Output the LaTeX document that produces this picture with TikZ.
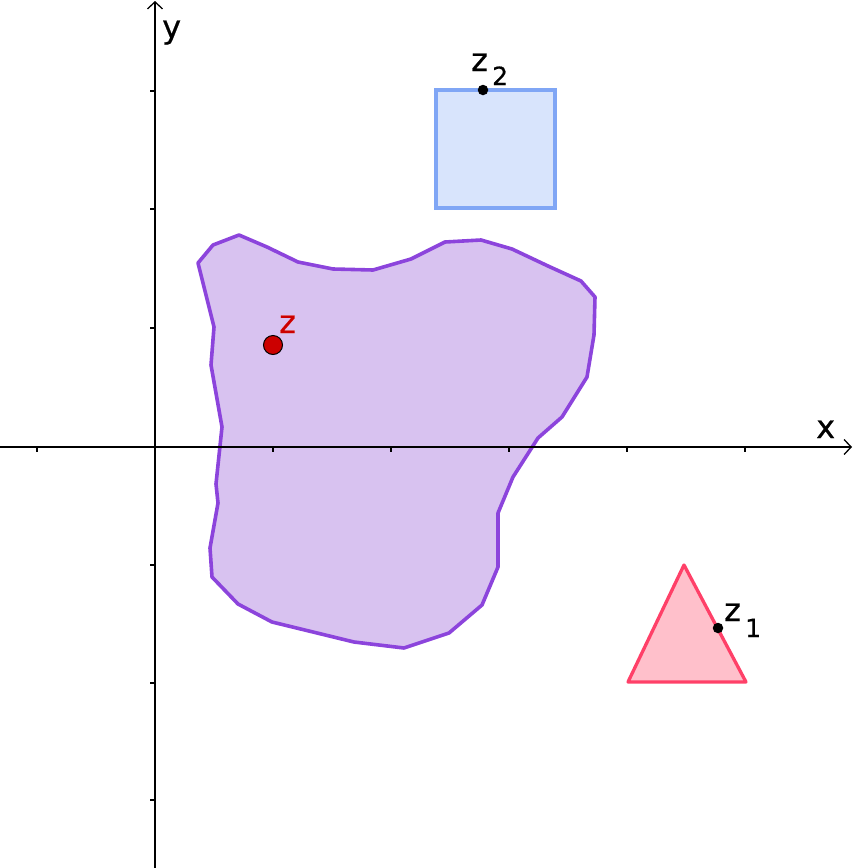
\documentclass[tikz,border=0pt]{standalone}
\usepackage{fontspec}
\setmainfont{DejaVu Sans}[FakeBold=0.6]
\usepackage[outline]{contour}
\contourlength{1.4pt}
\usetikzlibrary{arrows.meta}
\definecolor{purpleline}{RGB}{140,68,220}
\definecolor{purplefill}{RGB}{216,194,240}
\definecolor{blueline}{RGB}{128,166,245}
\definecolor{bluefill}{RGB}{216,228,252}
\definecolor{pinkline}{RGB}{255,64,104}
\definecolor{pinkfill}{RGB}{255,192,203}
\definecolor{zred}{RGB}{204,0,0}
\tikzset{
  axis/.style={line width=1.5pt, -{Straight Barb[length=7pt,width=15pt,line width=1.3pt]}},
  tick/.style={line width=1.3pt},
  lbl/.style={inner sep=0pt, anchor=base west, font=\fontsize{32}{32}\selectfont},
  sub/.style={inner sep=0pt, anchor=base west, font=\fontsize{25}{25}\selectfont},
  blackdot/.style={circle, fill=black, inner sep=0pt, minimum size=10.5pt},
}
\begin{document}
\begin{tikzpicture}[x=1pt,y=-1pt]
\useasboundingbox (0,0) rectangle (853,868);
% purple region
\draw[line width=3.6pt, draw=purpleline, fill=purplefill, line join=round]
 (198,263) -- (213,245) -- (239,235) -- (267,247) -- (298,262) -- (333,269) -- (373,270)
 -- (411,259) -- (445,242) -- (481,240) -- (512,249) -- (548,266) -- (581,281) -- (595,297)
 -- (594,335) -- (587,377) -- (562,417) -- (538,438) -- (513,477) -- (498,513) -- (498,567)
 -- (482,605) -- (449,633) -- (404,648) -- (354,642) -- (272,622) -- (238,604) -- (212,577)
 -- (210,548) -- (218,503) -- (216,484) -- (222,427) -- (211,365) -- (214,327) -- cycle;
% blue square
\draw[line width=3.3pt, draw=blueline, fill=bluefill] (436,90) rectangle (555,208);
% pink triangle
\draw[line width=3.3pt, draw=pinkline, fill=pinkfill, line join=round] (684,565) -- (746,682) -- (628,682) -- cycle;
% axes
\coordinate (xs) at (0,447);
\coordinate (xe) at (852,447);
\coordinate (ys) at (155,868);
\coordinate (ye) at (155,1);
\draw[axis] (xs) -- (xe);
\draw[axis] (ys) -- (ye);
\foreach \t in {37,273,391,509,627,745} \draw[tick] (\t,447) -- (\t,452);
\foreach \t in {91,209,328,565,683,800} \draw[tick] (150,\t) -- (155,\t);
\node[lbl] (xl) at (816,438) {x};
\node[lbl] (yl) at (162,38) {y};
% points
\node[blackdot] (z2) at (483,90) {};
\node[blackdot] (z1) at (718,628) {};
\node[circle, fill=zred, draw=black, line width=1pt, inner sep=0pt, minimum size=19pt] (z) at (273,345) {};
\node[lbl] (z2l) at (471,71) {z};
\node[sub] (z2s) at (492,85) {2};
\node[lbl] (z1l) at (724,621) {z};
\node[sub] (z1s) at (745,637) {1};
\node[lbl, text=zred] (zl) at (279,333) {\contour{white}{z}};
\end{tikzpicture}
\end{document}
